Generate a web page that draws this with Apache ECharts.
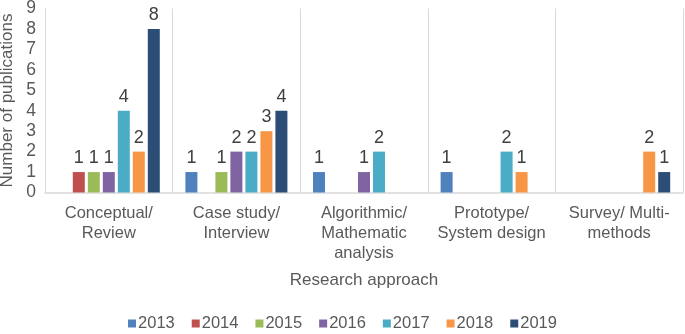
<!DOCTYPE html>
<html>
<head>
<meta charset="utf-8">
<script src="https://cdn.jsdelivr.net/npm/echarts@6/dist/echarts.min.js"></script>
<style>
html,body{margin:0;padding:0;background:#fff;}
#chart{width:685px;height:334px;}
</style>
</head>
<body>
<div id="chart"></div>
<script>
var categories = ['Conceptual/\nReview', 'Case study/\nInterview', 'Algorithmic/\nMathematic\nanalysis', 'Prototype/\nSystem design', 'Survey/ Multi-\nmethods'];
var years = ['2013', '2014', '2015', '2016', '2017', '2018', '2019'];
var v2013 = [0, 1, 1, 1, 0];
var v2014 = [1, 0, 0, 0, 0];
var v2015 = [1, 1, 0, 0, 0];
var v2016 = [1, 2, 1, 0, 0];
var v2017 = [4, 2, 2, 2, 0];
var v2018 = [2, 3, 0, 1, 2];
var v2019 = [8, 4, 0, 0, 1];
var yTicks = [0, 1, 2, 3, 4, 5, 6, 7, 8, 9];

var seriesValues = [v2013, v2014, v2015, v2016, v2017, v2018, v2019];
var colors = ['#4F81BD', '#C0504D', '#9BBB59', '#8064A2', '#4BACC6', '#F79646', '#2C4D75'];
var font = 'Liberation Sans, Arial, sans-serif';

var chart = echarts.init(document.getElementById('chart'));
chart.setOption({
  animation: false,
  color: colors,
  textStyle: {fontFamily: font},
  grid: {left: 45, right: 2, top: 8.5, bottom: 141.5, containLabel: false, outerBoundsMode: 'none'},
  legend: {
    data: years,
    bottom: -3,
    left: 'center',
    icon: 'rect',
    itemWidth: 8,
    itemHeight: 8,
    itemGap: 17,
    textStyle: {color: '#595959', fontSize: 16.5, fontFamily: font, padding: [0,0,0,-3]}
  },
  xAxis: {
    type: 'category',
    data: categories,
    name: 'Research approach',
    nameLocation: 'middle',
    nameGap: 79,
    nameTextStyle: {color: '#595959', fontSize: 17, fontFamily: font},
    axisLine: {lineStyle: {color: '#d9d9d9', width: 1.5}},
    axisTick: {show: false},
    splitLine: {show: true, interval: 0, lineStyle: {color: '#d9d9d9', width: 1}},
    axisLabel: {color: '#595959', fontSize: 16.5, lineHeight: 20, margin: 11, interval: 0, fontFamily: font}
  },
  yAxis: {
    type: 'value',
    min: 0,
    max: 9,
    interval: 1,
    name: 'Number of publications',
    nameLocation: 'middle',
    nameGap: 25,
    nameTextStyle: {color: '#595959', fontSize: 17, fontFamily: font},
    axisLine: {show: true, lineStyle: {color: '#d9d9d9'}},
    axisTick: {show: false},
    splitLine: {show: false},
    axisLabel: {color: '#595959', fontSize: 17.5, margin: 9, fontFamily: font,
      formatter: function (v) { return yTicks.indexOf(v) >= 0 ? String(v) : ''; }}
  },
  series: years.map(function (y, i) {
    return {
      name: y,
      type: 'bar',
      data: seriesValues[i],
      barWidth: 12,
      barGap: '25%',
      itemStyle: {color: colors[i]},
      label: {
        show: true,
        position: 'top',
        distance: 5,
        color: '#404040',
        fontSize: 18,
        fontFamily: font,
        formatter: function (p) { return p.value ? String(p.value) : ''; }
      }
    };
  })
});
</script>
</body>
</html>
